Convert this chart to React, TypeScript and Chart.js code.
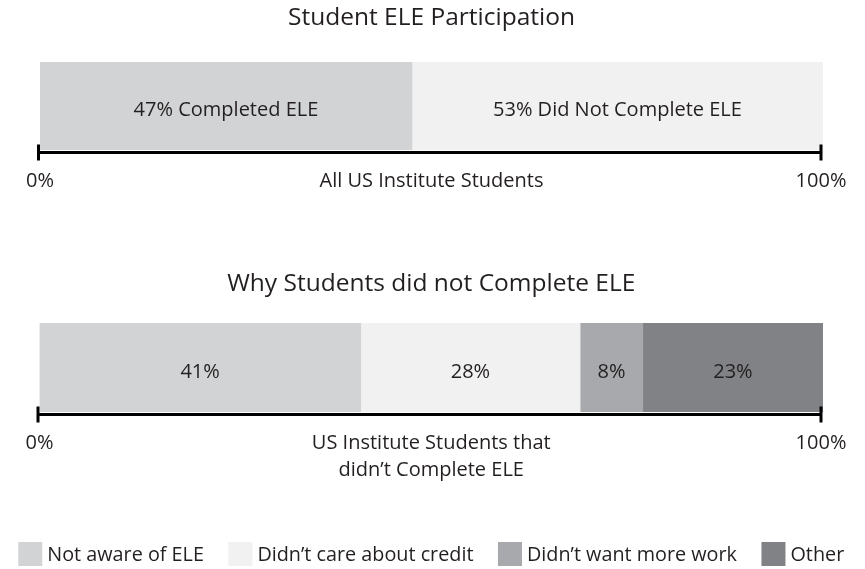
import React, { useEffect, useRef } from "react";
import { Chart, registerables } from "chart.js";

Chart.register(...registerables);

// ---- Data ----
const topTitle = "Student ELE Participation";
const topCategory = ["All US Institute Students"];
const topSeries = ["Completed ELE", "Did Not Complete ELE"];
const topValues = [47.5, 52.5];
const topSegmentLabels = ["47% Completed ELE", "53% Did Not Complete ELE"];
const topAxisTitle = ["All US Institute Students"];

const bottomTitle = "Why Students did not Complete ELE";
const bottomCategory = ["US Institute Students that didn’t Complete ELE"];
const bottomSeries = ["Not aware of ELE", "Didn’t care about credit", "Didn’t want more work", "Other"];
const bottomValues = [41, 28, 8, 23];
const bottomSegmentLabels = ["41%", "28%", "8%", "23%"];
const bottomAxisTitle = ["US Institute Students that", "didn’t Complete ELE"];

const axisTickLabels = ["0%", "100%"];

const topColors = ["#d1d3d4", "#f1f1f2"];
const bottomColors = ["#d1d3d4", "#f1f1f2", "#a7a9ac", "#808285"];

const FONT = "'Open Sans', 'Noto Sans', sans-serif";
const TEXT = "#231f20";

type Opts = {
  title: string;
  titleOffset: number;
  segLabels: string[];
  axisTitle: string[];
  legend?: { names: string[]; colors: string[]; y: number };
};

function makePlugin(o: Opts) {
  return {
    id: "custom-draw",
    afterDraw(chart: any) {
      const ctx = chart.ctx as CanvasRenderingContext2D;
      const { left, right, top, bottom } = chart.chartArea;
      const xs = chart.scales.x;
      const cx = (left + right) / 2;
      ctx.save();
      ctx.fillStyle = TEXT;
      // Title
      ctx.font = `24.5px ${FONT}`;
      ctx.textAlign = "center";
      ctx.textBaseline = "alphabetic";
      ctx.fillText(o.title, cx, top + o.titleOffset);
      // Segment labels
      ctx.font = `20px ${FONT}`;
      chart.data.datasets.forEach((_ds: any, i: number) => {
        const el = chart.getDatasetMeta(i).data[0];
        const mx = (el.x + el.base) / 2;
        ctx.fillText(o.segLabels[i], mx, el.y + 10);
      });
      // Axis line and ticks
      const y = bottom + 2.5;
      const x0 = xs.getPixelForValue(0) - 1.5;
      const x1 = xs.getPixelForValue(100) - 2;
      ctx.fillStyle = "#000";
      ctx.fillRect(x0, y - 1.5, x1 - x0, 3);
      ctx.fillRect(x0 - 1.5, y - 8, 3, 16);
      ctx.fillRect(x1 - 1.5, y - 8, 3, 16);
      // Tick labels
      ctx.fillStyle = TEXT;
      ctx.font = `20px ${FONT}`;
      ctx.fillText(axisTickLabels[0], x0 + 1.5, y + 34);
      ctx.fillText(axisTickLabels[1], x1, y + 34);
      // Axis title
      o.axisTitle.forEach((line, k) => {
        ctx.fillText(line, cx, y + 34 + k * 27.5);
      });
      // Legend
      if (o.legend) {
        const lg = o.legend;
        ctx.font = `19.8px ${FONT}`;
        const box = 24, gap = 5, itemGap = 24.5;
        const widths = lg.names.map((n) => ctx.measureText(n).width);
        const total = widths.reduce((a, w) => a + box + gap + w, 0) + itemGap * (lg.names.length - 1);
        let x = cx - total / 2;
        ctx.textAlign = "left";
        lg.names.forEach((n, i) => {
          ctx.fillStyle = lg.colors[i];
          ctx.fillRect(x, lg.y - box / 2, box, box);
          ctx.fillStyle = TEXT;
          ctx.fillText(n, x + box + gap, lg.y + 7);
          x += box + gap + widths[i] + itemGap;
        });
      }
      ctx.restore();
    },
  };
}

function makeConfig(
  category: string[],
  names: string[],
  values: number[],
  colors: string[],
  padding: { left: number; right: number; top: number; bottom: number },
  o: Opts
): any {
  return {
    type: "bar",
    data: {
      labels: category,
      datasets: values.map((v, i) => ({
        label: names[i],
        data: [v],
        backgroundColor: colors[i],
        borderWidth: 0,
        barPercentage: 1,
        categoryPercentage: 1,
      })),
    },
    options: {
      indexAxis: "y",
      responsive: false,
      animation: false,
      devicePixelRatio: 1,
      layout: { padding },
      scales: {
        x: { type: "linear", min: 0, max: 100, stacked: true, display: false },
        y: { stacked: true, display: false },
      },
      plugins: {
        legend: { display: false },
        tooltip: { enabled: false },
        title: { display: false },
      },
    },
    plugins: [makePlugin(o)],
  };
}

export default function App() {
  const ref1 = useRef<HTMLCanvasElement>(null);
  const ref2 = useRef<HTMLCanvasElement>(null);

  useEffect(() => {
    document.body.style.margin = "0";
    const c1 = new Chart(
      ref1.current as HTMLCanvasElement,
      makeConfig(topCategory, topSeries, topValues, topColors, { left: 40, right: 42, top: 62, bottom: 80 }, {
        title: topTitle,
        titleOffset: -37,
        segLabels: topSegmentLabels,
        axisTitle: topAxisTitle,
      })
    );
    const c2 = new Chart(
      ref2.current as HTMLCanvasElement,
      makeConfig(bottomCategory, bottomSeries, bottomValues, bottomColors, { left: 39.5, right: 42, top: 93, bottom: 157 }, {
        title: bottomTitle,
        titleOffset: -32,
        segLabels: bottomSegmentLabels,
        axisTitle: bottomAxisTitle,
        legend: { names: bottomSeries, colors: bottomColors, y: 324 },
      })
    );
    return () => {
      c1.destroy();
      c2.destroy();
    };
  }, []);

  return (
    <div style={{ position: "relative", width: 865, height: 569, background: "#fff" }}>
      <canvas ref={ref1} width={865} height={230} style={{ position: "absolute", left: 0, top: 0 }} />
      <canvas ref={ref2} width={865} height={339} style={{ position: "absolute", left: 0, top: 230 }} />
    </div>
  );
}
